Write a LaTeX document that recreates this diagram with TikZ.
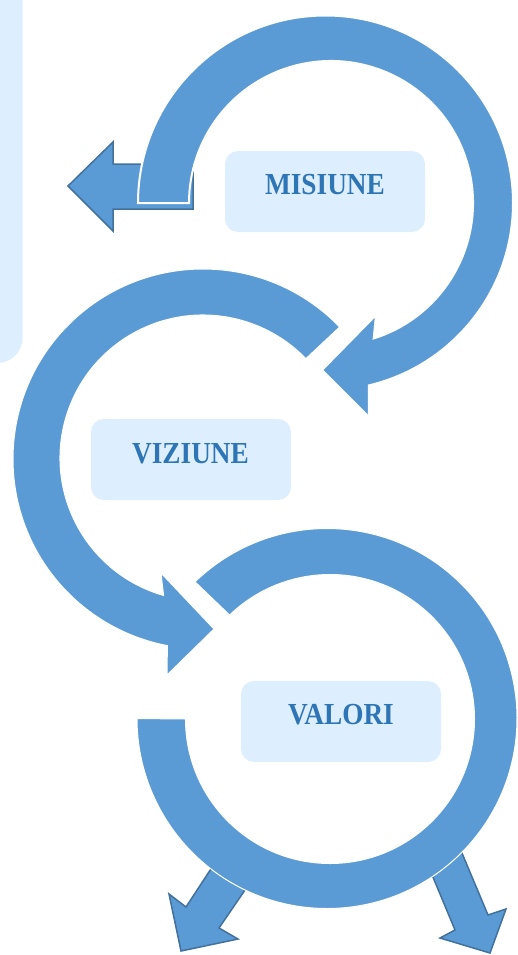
\documentclass[tikz,border=0pt]{standalone}
\usepackage{fontspec}
\setmainfont{Liberation Serif}
\definecolor{bandblue}{HTML}{5B9BD5}
\definecolor{edgeblue}{HTML}{41719C}
\definecolor{pale}{HTML}{DDEFFE}
\definecolor{ink}{HTML}{2E75B6}
\newcommand{\tallword}[1]{\scalebox{1}[1.12]{#1}}
\begin{document}
\begin{tikzpicture}[x=1pt,y=-1pt,
  bandshape/.style={fill=bandblue, draw=white, line width=1pt},
  flatarrow/.style={fill=bandblue, draw=edgeblue, line width=1.5pt, line join=miter},
  labelbox/.style={fill=pale, rounded corners=13pt, minimum width=200pt, minimum height=81pt, inner sep=0pt},
  boxtext/.style={text=ink, font=\bfseries\fontsize{27.3}{30}\selectfont, anchor=base, inner sep=0pt}]
\useasboundingbox (0,0) rectangle (517,955);
\clip (0,0) rectangle (517,955);
% left pale panel
\fill[pale, rounded corners=25pt] (-60,-60) rectangle (22.5,363);
% small left arrow
\filldraw[flatarrow] (193,164) -- (113,164) -- (113,142) -- (68,186) -- (113,231) -- (113,209) -- (193,209) -- cycle;
% top loop (MISIUNE)
\filldraw[bandshape, line width=2pt] ([shift={(180:187.5)}]325.5,203) arc[start angle=180, end angle=436.6, radius=187.5]
  -- (369,417) -- (322,370) -- (376,315) -- ([shift={(432.5:142)}]331,203)
  arc[start angle=432.5, end angle=180, radius=142] -- cycle;
% middle loop (VIZIUNE)
\filldraw[bandshape] ([shift={(316:190)}]203,459) arc[start angle=316, end angle=100.8, radius=190]
  -- (167,675) -- (214,629) -- (161,573) -- ([shift={(106:143)}]203,458)
  arc[start angle=106, end angle=316, radius=143] -- cycle;
% bottom arrows (under the lower loop)
\filldraw[flatarrow] (224,849) -- (186,907) -- (169,894) -- (181,951) -- (238,939) -- (219,928) -- (258,871) -- cycle;
\filldraw[flatarrow] (425,858) -- (455,930) -- (440,938) -- (490,953) -- (506,909) -- (488,915) -- (459,846) -- cycle;
% lower loop (VALORI)
\filldraw[bandshape] ([shift={(226:190)}]327,718.5) arc[start angle=226, end angle=540, radius=190]
  -- ([shift={(540:144.5)}]330,719) arc[start angle=540, end angle=226, radius=144.5] -- cycle;
% label boxes
\node[labelbox] (misbox) at (325,191.5) {};
\node[labelbox] (vizbox) at (191,459.5) {};
\node[labelbox] (valbox) at (341,721.5) {};
\node[boxtext] (mis) at (325,194) {\tallword{MISIUNE}};
\node[boxtext] (viz) at (190.5,463) {\tallword{VIZIUNE}};
\node[boxtext] (val) at (341,724) {\tallword{VALORI}};
\end{tikzpicture}
\end{document}
